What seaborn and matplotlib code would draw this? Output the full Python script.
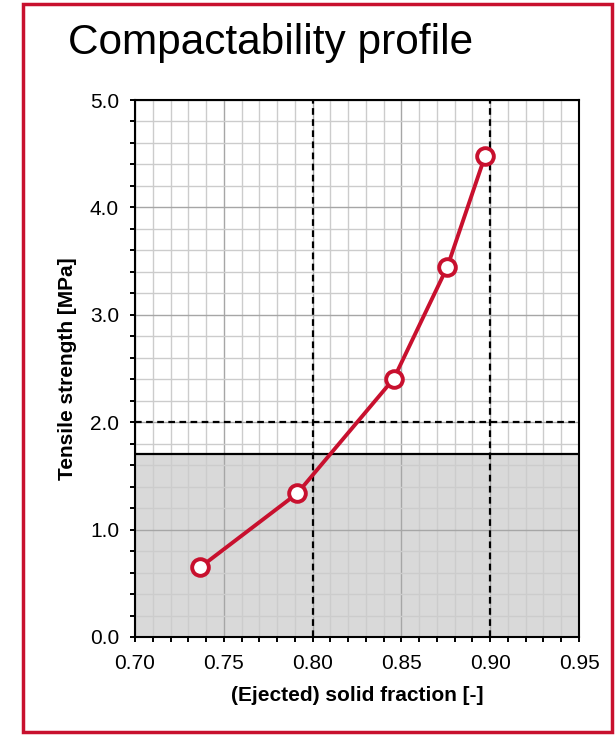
import matplotlib
matplotlib.use("Agg")
import matplotlib.pyplot as plt
from matplotlib.patches import Rectangle
from matplotlib.ticker import MultipleLocator
import seaborn as sns
import pandas as pd

solid_fraction = [0.7366, 0.7914, 0.8457, 0.8759, 0.8971]
tensile_strength = [0.648, 1.338, 2.405, 3.448, 4.479]
x_ticks = [0.70, 0.75, 0.80, 0.85, 0.90, 0.95]
y_ticks = [0.0, 1.0, 2.0, 3.0, 4.0, 5.0]
threshold_solid = 1.7
dashed_x = [0.80, 0.90]
dashed_y = [2.0]

RED = "#c8102e"

sns.set_style("white")
plt.rcParams['font.family'] = ['Liberation Sans', 'DejaVu Sans']
plt.rcParams.update({"text.color": "black", "axes.labelcolor": "black",
                     "xtick.color": "black", "ytick.color": "black"})

fig = plt.figure(figsize=(6.15, 7.35), dpi=100)
W, H = 615, 735
ax = fig.add_axes([135 / W, 1 - 637 / H, (579 - 135) / W, (637 - 100) / H])

df = pd.DataFrame({"x": solid_fraction, "y": tensile_strength})

ax.axhspan(0, threshold_solid, color="#d9d9d9", zorder=0.1, lw=0)
ax.set_axisbelow(True)

ax.xaxis.set_major_locator(MultipleLocator(0.05))
ax.xaxis.set_minor_locator(MultipleLocator(0.01))
ax.yaxis.set_major_locator(MultipleLocator(1.0))
ax.yaxis.set_minor_locator(MultipleLocator(0.2))
ax.grid(which="minor", color="#cccccc", lw=1.0)
ax.grid(which="major", color="#a6a6a6", lw=1.0)

ax.axhline(threshold_solid, color="black", lw=1.6, zorder=2)
for xv in dashed_x:
    ax.axvline(xv, color="black", lw=1.6, ls=(0, (3, 2)), zorder=2)
for yv in dashed_y:
    ax.axhline(yv, color="black", lw=1.6, ls=(0, (3, 2)), zorder=2)

sns.lineplot(data=df, x="x", y="y", ax=ax, color=RED, lw=2.8, marker="o",
             markersize=12, markerfacecolor="white", markeredgecolor=RED,
             markeredgewidth=2.8, zorder=5, sort=False)

ax.set_xlim(0.70, 0.95)
ax.set_ylim(0, 5)
ax.set_xticks(x_ticks)
ax.set_yticks(y_ticks)
ax.set_xticklabels([f"{v:.2f}" for v in x_ticks])
ax.set_yticklabels([f"{v:.1f}" for v in y_ticks])

for s in ax.spines.values():
    s.set_color("black")
    s.set_linewidth(1.5)
    s.set_zorder(6)

ax.tick_params(which="both", direction="out", length=3.5, width=1.4, color="black",
               left=True, bottom=True, top=False, right=False)
ax.tick_params(which="major", labelsize=15)
ax.tick_params(axis="x", which="major", pad=9)
ax.tick_params(axis="y", which="major", pad=8)

ax.set_xlabel("(Ejected) solid fraction [-]", fontsize=15, fontweight="bold", labelpad=9)
ax.set_ylabel("Tensile strength [MPa]", fontsize=15, fontweight="bold", labelpad=9)

fig.text(68 / W, 1 - 43 / H, "Compactability profile", fontsize=30.5, va="center", ha="left")

fig.patches.append(Rectangle((23.5 / W, 1 - 732 / H), (612 - 23.5) / W, (732 - 3.5) / H,
                             transform=fig.transFigure, fill=False, edgecolor=RED, lw=2.5))

fig.savefig("out.png", dpi=100)
